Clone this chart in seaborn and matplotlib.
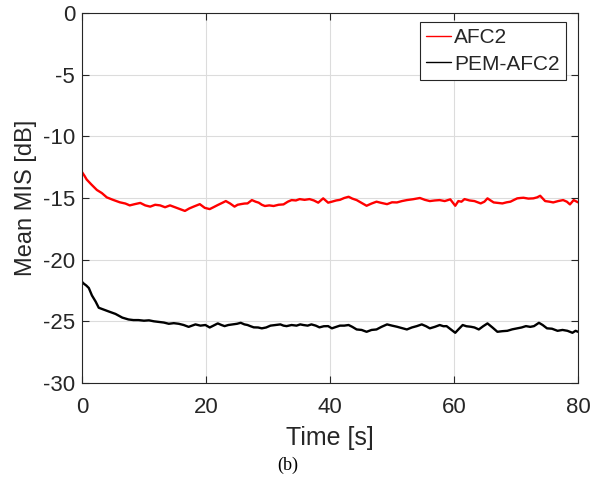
import numpy as np
import pandas as pd
import matplotlib
matplotlib.use("Agg")
import matplotlib.pyplot as plt
import seaborn as sns

# ---- data ----
t_afc2 = [0, 0.4, 0.75, 1.5, 2.4, 3.2, 4.0, 5.0, 6.1, 7.0, 7.7, 8.5, 9.4, 10.2, 11.0, 11.8,
          12.6, 13.4, 14.2, 15.0, 15.8, 16.6, 17.3, 18.0, 19.0, 19.8, 20.6, 21.2, 21.9, 22.6,
          23.2, 23.9, 24.6, 25.1, 25.6, 26.2, 26.7, 27.4, 28.0, 28.5, 29.0, 29.5, 30.2, 30.9,
          31.7, 32.5, 33.2, 33.8, 34.5, 35.1, 35.9, 36.7, 37.4, 38.1, 38.9, 39.7, 40.3, 41.0,
          41.6, 42.3, 43.0, 43.6, 44.3, 45.1, 45.9, 46.7, 47.5, 48.3, 49.2, 50.0, 50.8, 51.6,
          52.4, 53.4, 54.5, 55.3, 56.1, 56.9, 57.7, 58.5, 59.4, 60.2, 60.7, 61.2, 61.7, 62.5,
          63.3, 64.3, 64.9, 65.4, 65.9, 66.4, 67.1, 67.8, 68.5, 69.1, 69.7, 70.2, 70.7, 71.2,
          72.0, 72.8, 73.4, 73.9, 74.7, 75.4, 76.0, 76.8, 77.6, 78.2, 78.7, 79.3, 80.0]
mis_afc2 = [-12.9, -13.2, -13.5, -13.9, -14.35, -14.6, -14.95, -15.15, -15.35, -15.45, -15.6,
            -15.5, -15.4, -15.6, -15.7, -15.55, -15.6, -15.75, -15.6, -15.75, -15.9, -16.05,
            -15.85, -15.7, -15.5, -15.8, -15.9, -15.75, -15.57, -15.4, -15.25, -15.45, -15.7,
            -15.55, -15.5, -15.45, -15.44, -15.17, -15.3, -15.38, -15.55, -15.65, -15.6, -15.65,
            -15.55, -15.52, -15.3, -15.17, -15.2, -15.09, -15.15, -15.09, -15.2, -15.38, -15.03,
            -15.38, -15.3, -15.2, -15.15, -15.0, -14.9, -15.05, -15.17, -15.4, -15.63, -15.45,
            -15.3, -15.4, -15.5, -15.35, -15.36, -15.25, -15.17, -15.1, -15.0, -15.15, -15.25,
            -15.2, -15.17, -15.25, -15.11, -15.63, -15.25, -15.3, -15.09, -15.2, -15.25, -15.44,
            -15.3, -15.03, -15.2, -15.36, -15.4, -15.44, -15.35, -15.3, -15.15, -15.03, -15.0,
            -14.98, -15.05, -15.03, -14.95, -14.82, -15.25, -15.3, -15.36, -15.25, -15.17,
            -15.3, -15.52, -15.17, -15.35]

t_pem = [0, 0.3, 0.7, 1.1, 1.6, 2.2, 2.7, 3.5, 4.3, 5.4, 6.5, 7.5, 8.3, 9.1, 10.0, 10.8, 11.6,
         12.4, 13.2, 14.0, 14.8, 15.6, 16.4, 17.2, 18.3, 19.1, 19.9, 20.6, 21.2, 21.9, 22.5,
         23.0, 23.6, 24.3, 25.0, 25.6, 26.2, 26.7, 27.2, 27.7, 28.4, 29.0, 29.7, 30.4, 31.2,
         32.0, 32.5, 33.0, 33.8, 34.6, 35.2, 35.7, 36.4, 37.0, 37.7, 38.3, 39.0, 39.7, 40.3,
         41.0, 41.6, 42.3, 43.0, 43.6, 44.3, 45.1, 45.9, 46.7, 47.5, 48.3, 49.2, 50.0, 50.8,
         51.6, 52.4, 53.2, 54.0, 54.8, 55.5, 56.1, 56.9, 57.7, 58.3, 58.8, 59.5, 60.2, 60.7,
         61.4, 62.0, 62.7, 63.3, 64.0, 64.7, 65.4, 66.2, 67.0, 67.8, 68.6, 69.4, 70.2, 70.9,
         71.6, 72.3, 72.9, 73.7, 74.3, 75.0, 75.8, 76.7, 77.5, 78.3, 79.1, 79.6, 80.0]
mis_pem = [-21.8, -21.95, -22.1, -22.3, -22.9, -23.4, -23.9, -24.05, -24.2, -24.4, -24.7,
           -24.85, -24.9, -24.9, -24.95, -24.92, -25.0, -25.05, -25.1, -25.2, -25.15, -25.2,
           -25.3, -25.45, -25.25, -25.35, -25.3, -25.5, -25.35, -25.17, -25.3, -25.39, -25.3,
           -25.25, -25.2, -25.12, -25.25, -25.3, -25.4, -25.49, -25.5, -25.57, -25.5, -25.35,
           -25.3, -25.25, -25.35, -25.39, -25.3, -25.35, -25.25, -25.3, -25.35, -25.25, -25.35,
           -25.49, -25.4, -25.39, -25.57, -25.45, -25.35, -25.35, -25.3, -25.45, -25.66, -25.7,
           -25.85, -25.7, -25.66, -25.45, -25.25, -25.35, -25.44, -25.55, -25.66, -25.5, -25.39,
           -25.25, -25.4, -25.57, -25.45, -25.3, -25.4, -25.39, -25.66, -25.93, -25.66, -25.3,
           -25.4, -25.44, -25.5, -25.66, -25.4, -25.17, -25.5, -25.85, -25.8, -25.77, -25.65,
           -25.57, -25.5, -25.39, -25.45, -25.39, -25.12, -25.3, -25.57, -25.6, -25.77, -25.7,
           -25.77, -25.93, -25.77, -25.85]

series_names = ["AFC2", "PEM-AFC2"]
x_ticks = [0, 20, 40, 60, 80]
y_ticks = [-30, -25, -20, -15, -10, -5, 0]

df = pd.concat([
    pd.DataFrame({"Time": t_afc2, "MIS": mis_afc2, "Method": series_names[0]}),
    pd.DataFrame({"Time": t_pem, "MIS": mis_pem, "Method": series_names[1]}),
], ignore_index=True)

sns.set_theme(style="white")
plt.rcParams["font.family"] = ["Liberation Sans", "DejaVu Sans"]

fig = plt.figure(figsize=(6.11, 4.87), dpi=100)
ax = fig.add_axes([0.1342, 0.2136, 0.8118, 0.7597])

sns.lineplot(data=df, x="Time", y="MIS", hue="Method", hue_order=series_names,
             palette={"AFC2": "#ff0000", "PEM-AFC2": "#000000"},
             linewidth=1.7, ax=ax, estimator=None, sort=True)

ax.set_xlim(0, 80)
ax.set_ylim(-30, 0)
ax.set_xticks(x_ticks)
ax.set_yticks(y_ticks)
ax.set_xticklabels([str(v) for v in x_ticks])
ax.set_yticklabels([str(v) for v in y_ticks])
ax.grid(True, color="#dcdcdc", linewidth=0.8)
ax.set_axisbelow(True)
for s in ax.spines.values():
    s.set_color("#262626")
    s.set_linewidth(0.8)
    s.set_visible(True)
ax.tick_params(axis="both", direction="in", length=5, width=0.8, color="#262626",
               labelsize=16, labelcolor="#262626", top=True, right=True,
               left=True, bottom=True)
ax.tick_params(axis="x", pad=10)
ax.tick_params(axis="y", pad=5)
ax.set_xlabel("Time [s]", fontsize=18, color="#262626", labelpad=6)
ax.set_ylabel("Mean MIS [dB]", fontsize=17, color="#262626", labelpad=4)

leg = ax.legend(loc="upper right", bbox_to_anchor=(566 / 611, 1 - 22 / 487),
                bbox_transform=fig.transFigure, borderaxespad=0,
                fontsize=15, frameon=True, fancybox=False,
                handlelength=1.2, handletextpad=0.15, borderpad=0.3,
                labelspacing=0.35)
leg.get_frame().set_edgecolor("#262626")
leg.get_frame().set_linewidth(0.8)
leg.get_frame().set_alpha(1.0)
for line in leg.get_lines():
    line.set_linewidth(1.0)

fig.text(0.4705, 0.045, "(b)", fontsize=13, ha="center", va="center",
         family=["Liberation Serif", "DejaVu Serif"], color="black")

fig.savefig("out.png", dpi=100)
